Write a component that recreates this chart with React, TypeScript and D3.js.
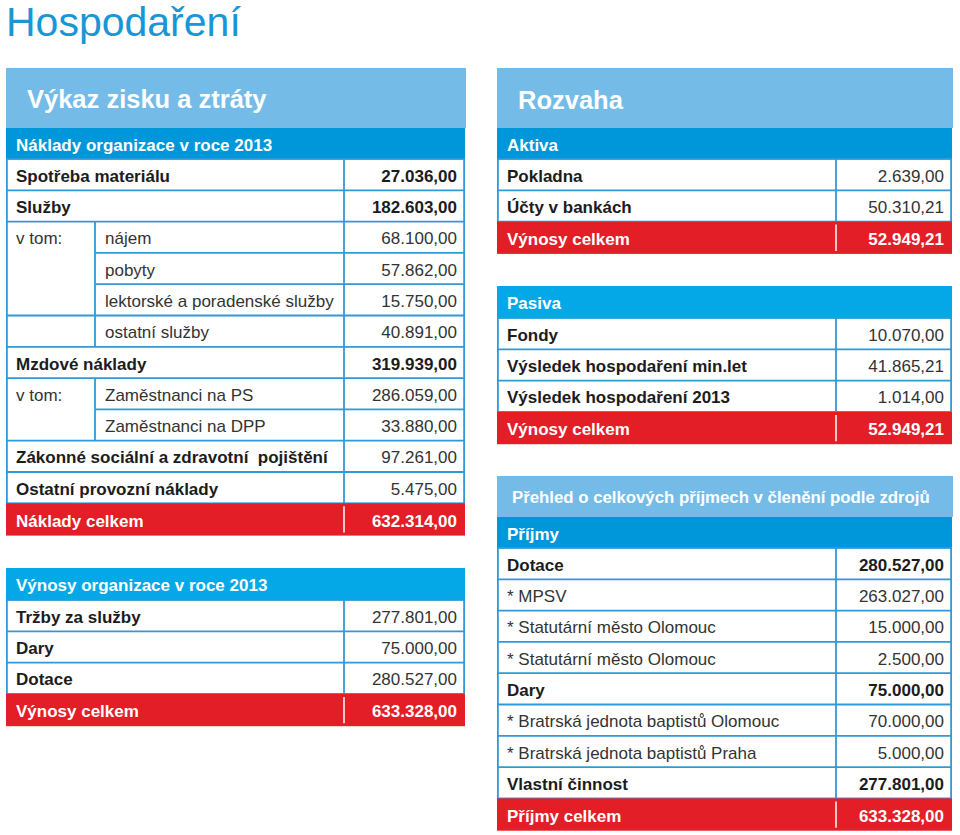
import React from "react";
import * as d3 from "d3";

// ---------- DATA ----------
const pageTitle = "Hospodaření";

const pnlTitle = "Výkaz zisku a ztráty";
const costHeader = "Náklady organizace v roce 2013";
const costLabels = [
  "Spotřeba materiálu",
  "Služby",
  "nájem",
  "pobyty",
  "lektorské a poradenské služby",
  "ostatní služby",
  "Mzdové náklady",
  "Zaměstnanci na PS",
  "Zaměstnanci na DPP",
  "Zákonné sociální a zdravotní  pojištění",
  "Ostatní provozní náklady",
];
const costValues = [27036, 182603, 68100, 57862, 15750, 40891, 319939, 286059, 33880, 97261, 5475];
const costLevel = [0, 0, 1, 1, 1, 1, 0, 1, 1, 0, 0];
const costPrefix = ["", "", "v tom:", "", "", "", "", "v tom:", "", "", ""];
const costJoinAbove = [false, false, false, true, true, false, false, false, true, false, false];
const costBoldValue = [true, true, false, false, false, false, true, false, false, false, false];
const costTotalLabel = "Náklady celkem";
const costTotal = 632314;

const revHeader = "Výnosy organizace v roce 2013";
const revLabels = ["Tržby za služby", "Dary", "Dotace"];
const revValues = [277801, 75000, 280527];
const revTotalLabel = "Výnosy celkem";
const revTotal = 633328;

const balTitle = "Rozvaha";
const assetsHeader = "Aktiva";
const assetLabels = ["Pokladna", "Účty v bankách"];
const assetValues = [2639, 50310.21];
const assetTotalLabel = "Výnosy celkem";
const assetTotal = 52949.21;

const liabHeader = "Pasiva";
const liabLabels = ["Fondy", "Výsledek hospodaření min.let", "Výsledek hospodaření 2013"];
const liabValues = [10070, 41865.21, 1014];
const liabTotalLabel = "Výnosy celkem";
const liabTotal = 52949.21;

const incTitle = "Přehled o celkových příjmech v členění podle zdrojů";
const incHeader = "Příjmy";
const incLabels = [
  "Dotace",
  "* MPSV",
  "* Statutární město Olomouc",
  "* Statutární město Olomouc",
  "Dary",
  "* Bratrská jednota baptistů Olomouc",
  "* Bratrská jednota baptistů Praha",
  "Vlastní činnost",
];
const incValues = [280527, 263027, 15000, 2500, 75000, 70000, 5000, 277801];
const incBold = [true, false, false, false, true, false, false, true];
const incTotalLabel = "Příjmy celkem";
const incTotal = 633328;

// ---------- STYLE ----------
const FONT = "'Liberation Sans', Arial, Helvetica, sans-serif";
const C_LIGHT = "#74bce7";
const C_DARK = "#0096da";
const C_BRIGHT = "#05a8e7";
const C_RED = "#e31e26";
const C_LINE = "#3199d5";
const C_TEXT = "#1c1c1c";
const C_TEXT_LIGHT = "#333333";

const locale = d3.formatLocale({ decimal: ",", thousands: ".", grouping: [3], currency: ["", ""] });
const fmt = locale.format(",.2f");

type Row = {
  label: string;
  value: number;
  boldLabel: boolean;
  boldValue: boolean;
  level?: number;
  prefix?: string;
  joinAbove?: boolean;
};

type BlockProps = {
  x0: number;
  x1: number;
  splitX: number;
  subX?: number;
  headerTop: number;
  headerH: number;
  header: string;
  headerColor: string;
  rowTop: number;
  rowH: number;
  rows: Row[];
  totalLabel: string;
  total: number;
};

const ROW_FS = 17;

function Block(p: BlockProps) {
  const n = p.rows.length;
  const y = d3
    .scaleBand<number>()
    .domain(d3.range(n + 1))
    .range([p.rowTop, p.rowTop + (n + 1) * p.rowH])
    .paddingInner(0);
  const bodyBottom = y(n)!;
  const totalTop = bodyBottom;
  const totalH = p.rowH + 1;
  const labelX = p.x0 + 10;
  const valueX = p.x1 - 8;
  const base = (top: number, h: number) => top + h / 2 + ROW_FS * 0.36 + 1;
  return (
    <g>
      <rect x={p.x0} y={p.headerTop} width={p.x1 - p.x0} height={p.headerH} fill={p.headerColor} />
      <text
        x={labelX}
        y={base(p.headerTop, p.headerH)}
        fill="#fff"
        fontWeight="bold"
        fontSize={ROW_FS}
        fontFamily={FONT}
      >
        {p.header}
      </text>
      <rect x={p.x0} y={p.rowTop} width={p.x1 - p.x0} height={bodyBottom - p.rowTop} fill="#fff" />
      {p.rows.map((r, i) => {
        const top = y(i)!;
        const lvl = r.level || 0;
        const lineStart = r.joinAbove && p.subX ? p.subX : p.x0;
        return (
          <g key={i}>
            {i > 0 && (
              <line x1={lineStart} x2={p.x1} y1={top} y2={top} stroke={C_LINE} strokeWidth={1.8} />
            )}
            {lvl === 1 && p.subX && (
              <line x1={p.subX} x2={p.subX} y1={top} y2={top + p.rowH} stroke={C_LINE} strokeWidth={1.8} />
            )}
            {r.prefix && (
              <text x={labelX} y={base(top, p.rowH)} fontSize={ROW_FS} fontFamily={FONT} fill={C_TEXT_LIGHT}>
                {r.prefix}
              </text>
            )}
            <text
              x={lvl === 1 && p.subX ? p.subX + 10 : labelX}
              y={base(top, p.rowH)}
              fontSize={ROW_FS}
              fontFamily={FONT}
              fontWeight={r.boldLabel ? "bold" : "normal"}
              fill={r.boldLabel ? C_TEXT : C_TEXT_LIGHT}
              style={{ whiteSpace: "pre" }}
            >
              {r.label}
            </text>
            <text
              x={valueX}
              y={base(top, p.rowH)}
              textAnchor="end"
              fontSize={ROW_FS}
              fontFamily={FONT}
              fontWeight={r.boldValue ? "bold" : "normal"}
              fill={r.boldValue ? C_TEXT : C_TEXT_LIGHT}
            >
              {fmt(r.value)}
            </text>
          </g>
        );
      })}
      <line x1={p.splitX} x2={p.splitX} y1={p.rowTop} y2={bodyBottom} stroke={C_LINE} strokeWidth={1.8} />
      <rect
        x={p.x0 + 0.9}
        y={p.rowTop}
        width={p.x1 - p.x0 - 1.8}
        height={bodyBottom - p.rowTop}
        fill="none"
        stroke={C_LINE}
        strokeWidth={1.8}
      />
      <rect x={p.x0} y={totalTop} width={p.x1 - p.x0} height={totalH} fill={C_RED} />
      <line x1={p.splitX} x2={p.splitX} y1={totalTop + 3} y2={totalTop + totalH - 3} stroke="#fff" strokeWidth={1.5} />
      <text x={labelX} y={base(totalTop, totalH)} fill="#fff" fontWeight="bold" fontSize={ROW_FS} fontFamily={FONT}>
        {p.totalLabel}
      </text>
      <text
        x={valueX}
        y={base(totalTop, totalH)}
        fill="#fff"
        fontWeight="bold"
        fontSize={ROW_FS}
        fontFamily={FONT}
        textAnchor="end"
      >
        {fmt(p.total)}
      </text>
    </g>
  );
}

export default function App() {
  const RH = 31.3;
  const costRows: Row[] = costLabels.map((l, i) => ({
    label: l,
    value: costValues[i],
    boldLabel: costLevel[i] === 0,
    boldValue: costBoldValue[i],
    level: costLevel[i],
    prefix: costPrefix[i],
    joinAbove: costJoinAbove[i],
  }));
  const revRows: Row[] = revLabels.map((l, i) => ({ label: l, value: revValues[i], boldLabel: true, boldValue: false }));
  const assetRows: Row[] = assetLabels.map((l, i) => ({ label: l, value: assetValues[i], boldLabel: true, boldValue: false }));
  const liabRows: Row[] = liabLabels.map((l, i) => ({ label: l, value: liabValues[i], boldLabel: true, boldValue: false }));
  const incRows: Row[] = incLabels.map((l, i) => ({ label: l, value: incValues[i], boldLabel: incBold[i], boldValue: incBold[i] }));

  const L = { x0: 6, x1: 465, split: 344, sub: 95 };
  const R = { x0: 497, x1: 952, split: 836 };

  return (
    <svg width={960} height={835} style={{ position: "absolute", left: 0, top: 0, background: "#fff" }}>
      <rect width={960} height={835} fill="#fff" />
      <text x={6} y={36} fontSize={41} fontFamily={FONT} fill="#1a95d6">
        {pageTitle}
      </text>

      {/* Left: Výkaz zisku a ztráty */}
      <rect x={L.x0} y={68} width={L.x1 - L.x0 + 1} height={60} fill={C_LIGHT} />
      <text x={27} y={108} fontSize={25.5} fontWeight="bold" fontFamily={FONT} fill="#fff">
        {pnlTitle}
      </text>
      <Block
        x0={L.x0}
        x1={L.x1}
        splitX={L.split}
        subX={L.sub}
        headerTop={128}
        headerH={31}
        header={costHeader}
        headerColor={C_DARK}
        rowTop={159}
        rowH={RH}
        rows={costRows}
        totalLabel={costTotalLabel}
        total={costTotal}
      />
      <Block
        x0={L.x0}
        x1={L.x1}
        splitX={L.split}
        headerTop={568}
        headerH={32}
        header={revHeader}
        headerColor={C_BRIGHT}
        rowTop={600}
        rowH={RH}
        rows={revRows}
        totalLabel={revTotalLabel}
        total={revTotal}
      />

      {/* Right: Rozvaha */}
      <rect x={R.x0} y={68} width={R.x1 - R.x0 + 1} height={60} fill={C_LIGHT} />
      <text x={518} y={109} fontSize={25.5} fontWeight="bold" fontFamily={FONT} fill="#fff">
        {balTitle}
      </text>
      <Block
        x0={R.x0}
        x1={R.x1}
        splitX={R.split}
        headerTop={128}
        headerH={31}
        header={assetsHeader}
        headerColor={C_DARK}
        rowTop={159}
        rowH={RH}
        rows={assetRows}
        totalLabel={assetTotalLabel}
        total={assetTotal}
      />
      <Block
        x0={R.x0}
        x1={R.x1}
        splitX={R.split}
        headerTop={286}
        headerH={32}
        header={liabHeader}
        headerColor={C_BRIGHT}
        rowTop={318}
        rowH={RH}
        rows={liabRows}
        totalLabel={liabTotalLabel}
        total={liabTotal}
      />

      {/* Right: Přehled */}
      <rect x={R.x0} y={476} width={R.x1 - R.x0 + 1} height={41} fill={C_LIGHT} />
      <text x={512} y={503} fontSize={16.8} fontWeight="bold" fontFamily={FONT} fill="#fff">
        {incTitle}
      </text>
      <Block
        x0={R.x0}
        x1={R.x1}
        splitX={R.split}
        headerTop={517}
        headerH={31}
        header={incHeader}
        headerColor={C_DARK}
        rowTop={548}
        rowH={RH}
        rows={incRows}
        totalLabel={incTotalLabel}
        total={incTotal}
      />
    </svg>
  );
}
